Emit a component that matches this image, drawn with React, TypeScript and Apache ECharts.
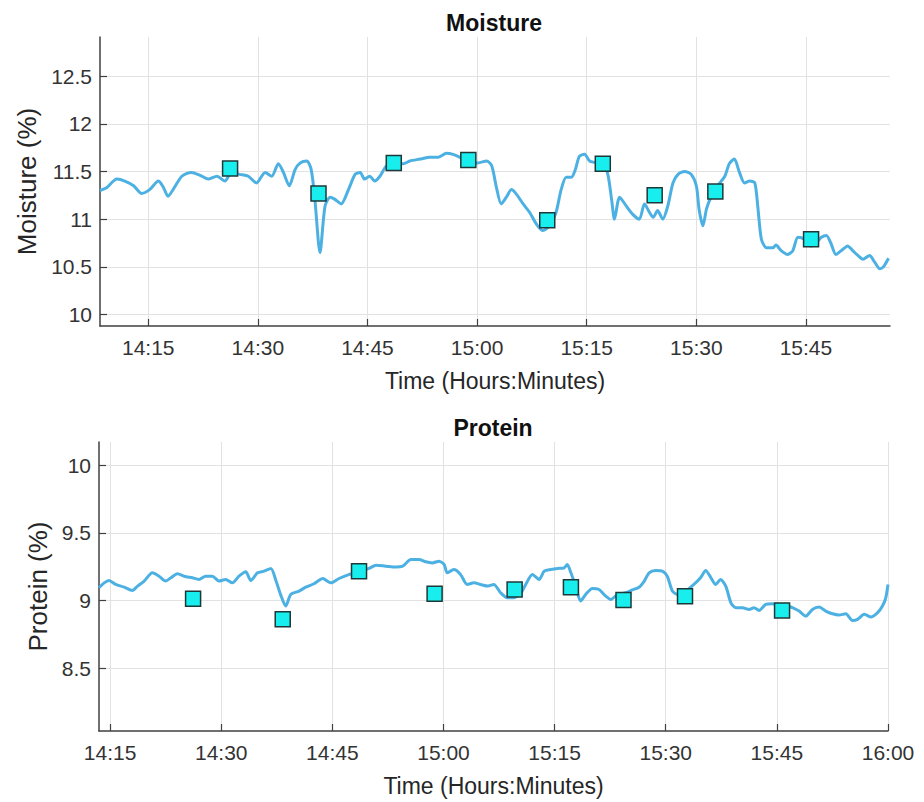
import React, { useEffect, useRef } from "react";
import * as echarts from "echarts";

// time values are minutes since midnight
const moistureTimes = [
  848.4, 849.3, 850.7, 851.8, 853.0, 854.1, 855.2, 856.4, 857.1, 857.7, 858.4, 859.6, 860.9, 862.1, 863.2,
  864.4, 865.5, 866.4, 867.5, 868.7, 869.8, 871.0, 871.9, 872.8, 873.5, 874.3, 875.1, 875.8, 876.7, 877.3,
  877.8, 878.5, 879.2, 879.9, 880.5, 881.4, 882.4, 883.3, 884.0, 884.6, 885.3, 886.0, 886.7, 887.6, 888.7,
  889.9, 890.8, 892.2, 893.5, 894.7, 895.8, 896.7, 897.6, 899.0, 900.1, 901.3, 902.0, 902.6, 903.3, 904.0,
  904.7, 905.4, 906.3, 907.2, 908.1, 909.0, 909.9, 910.8, 911.5, 912.2, 912.9, 913.4, 914.0, 914.7, 915.4,
  916.3, 917.7, 918.4, 918.8, 919.5, 920.4, 921.3, 922.2, 922.9, 923.6, 924.1, 924.7, 925.4, 926.1, 926.8,
  927.5, 928.4, 929.3, 930.0, 930.4, 930.9, 931.4, 932.0, 932.9, 933.9, 934.5, 935.2, 935.9, 936.6, 937.3,
  938.0, 938.4, 938.9, 939.6, 940.5, 940.9, 941.6, 942.5, 943.2, 943.9, 944.8, 945.7, 946.4, 947.1, 947.8,
  948.4, 949.1, 950.0, 950.7, 951.4, 952.1, 952.8, 953.7, 954.4, 955.1, 955.6, 956.3,
];
const moistureValues = [
  11.30, 11.33, 11.42, 11.40, 11.35, 11.27, 11.31, 11.40, 11.33, 11.24, 11.31, 11.45, 11.49, 11.46, 11.42,
  11.45, 11.40, 11.49, 11.47, 11.45, 11.38, 11.49, 11.45, 11.58, 11.49, 11.35, 11.52, 11.59, 11.61, 11.52,
  11.21, 10.65, 11.14, 11.23, 11.21, 11.16, 11.31, 11.47, 11.49, 11.42, 11.45, 11.40, 11.45, 11.56, 11.59,
  11.58, 11.61, 11.63, 11.65, 11.65, 11.69, 11.68, 11.65, 11.59, 11.59, 11.61, 11.56, 11.35, 11.16, 11.23,
  11.31, 11.26, 11.16, 11.07, 10.95, 10.88, 10.93, 11.07, 11.31, 11.44, 11.44, 11.51, 11.66, 11.68, 11.61,
  11.59, 11.52, 11.21, 11.00, 11.23, 11.14, 11.05, 11.00, 11.16, 11.07, 11.02, 11.09, 11.00, 11.14, 11.38,
  11.47, 11.50, 11.47, 11.35, 11.09, 10.93, 11.11, 11.23, 11.35, 11.45, 11.58, 11.63, 11.49, 11.38, 11.40,
  11.38, 11.14, 10.79, 10.70, 10.70, 10.73, 10.67, 10.63, 10.67, 10.81, 10.79, 10.72, 10.75, 10.81, 10.83,
  10.75, 10.63, 10.68, 10.72, 10.67, 10.62, 10.58, 10.62, 10.55, 10.48, 10.50, 10.59,
];

const proteinTimes = [
  853.5, 854.2, 854.85, 855.75, 856.9, 858.0, 858.7, 859.6, 860.7, 861.6, 862.5, 863.2, 864.1, 865.0, 866.1,
  867.0, 867.9, 868.8, 869.7, 870.6, 871.5, 872.4, 873.3, 874.0, 874.9, 875.8, 876.7, 877.4, 878.0, 878.7,
  879.4, 880.5, 881.4, 882.5, 883.7, 884.8, 885.9, 887.3, 888.2, 889.95, 890.9, 892.2, 893.6, 894.5, 895.6,
  896.7, 897.6, 898.5, 899.4, 900.1, 900.5, 901.4, 902.3, 903.2, 904.1, 905.0, 906.0, 906.8, 907.7, 908.6,
  909.5, 910.4, 911.1, 912.0, 912.9, 913.6, 914.5, 915.4, 916.3, 916.7, 917.2, 917.9, 918.5, 919.2, 920.1,
  921.0, 921.9, 922.6, 923.5, 924.6, 925.5, 926.4, 927.1, 927.75, 928.65, 929.55, 930.2, 930.9, 931.6, 932.7,
  933.8, 934.7, 935.4, 936.1, 936.75, 937.4, 938.1, 938.8, 939.45, 940.35, 941.25, 941.9, 942.6, 943.5, 944.4,
  945.3, 946.2, 947.1, 948.0, 948.9, 949.8, 950.7, 951.6, 952.5, 953.4, 954.3, 955.2, 955.9, 956.8, 957.7,
  958.6, 959.25, 959.7, 960.0,
];
const proteinValues = [
  9.096, 9.132, 9.150, 9.120, 9.100, 9.076, 9.108, 9.145, 9.206, 9.181, 9.145, 9.169, 9.199, 9.181, 9.169,
  9.157, 9.181, 9.181, 9.145, 9.157, 9.132, 9.181, 9.213, 9.150, 9.206, 9.218, 9.238, 9.145, 9.047, 8.961,
  9.047, 9.071, 9.100, 9.125, 9.164, 9.132, 9.164, 9.194, 9.206, 9.238, 9.262, 9.255, 9.248, 9.255, 9.304,
  9.304, 9.287, 9.279, 9.292, 9.267, 9.206, 9.230, 9.194, 9.120, 9.132, 9.120, 9.108, 9.120, 9.059, 9.022,
  9.022, 9.051, 9.120, 9.194, 9.157, 9.218, 9.230, 9.238, 9.243, 9.267, 9.206, 9.096, 8.998, 9.047, 9.091,
  9.083, 9.034, 9.010, 9.047, 9.059, 9.080, 9.100, 9.145, 9.206, 9.223, 9.218, 9.181, 9.071, 9.047, 9.071,
  9.120, 9.169, 9.223, 9.169, 9.120, 9.157, 9.108, 8.985, 8.949, 8.949, 8.936, 8.949, 8.929, 8.973, 8.978,
  8.968, 8.968, 8.949, 8.924, 8.887, 8.936, 8.953, 8.924, 8.904, 8.895, 8.904, 8.855, 8.863, 8.900, 8.880,
  8.912, 8.961, 9.022, 9.120,
];

const sampleTimes = [866.2, 878.3, 888.6, 898.8, 909.6, 917.2, 924.3, 932.6, 945.7];
const sampleMoisture = [11.53, 11.27, 11.59, 11.62, 10.99, 11.58, 11.25, 11.29, 10.79];
const sampleProtein = [9.015, 8.863, 9.218, 9.051, 9.083, 9.1, 9.005, 9.034, 8.929];

const moistureTimeTicks = [855, 870, 885, 900, 915, 930, 945];
const proteinTimeTicks = [855, 870, 885, 900, 915, 930, 945, 960];
const moistureTicks = [10, 10.5, 11, 11.5, 12, 12.5];
const proteinTicks = [8.5, 9, 9.5, 10];

const moistureRange = [9.88, 12.91];
const proteinRange = [8.04, 10.17];
const moistureTimeRange = [848.4, 956.5];
const proteinTimeRange = [853.5, 960];

const titles = ["Moisture", "Protein"];
const xName = "Time (Hours:Minutes)";
const yNames = ["Moisture (%)", "Protein (%)"];

const FONT = "'Liberation Sans', Arial, Helvetica, sans-serif";
const AXIS_COLOR = "#404040";
const LINE_COLOR = "#4CB1E2";

const fmtTime = (v: number) => {
  const m = Math.round(v);
  const h = Math.floor(m / 60);
  const mm = m % 60;
  return `${h}:${String(mm).padStart(2, "0")}`;
};

const zip = (a: number[], b: number[]) => a.map((x, i) => [x, b[i]]);

function xAxisCfg(gridIndex: number, range: number[], ticks: number[]) {
  return {
    type: "value",
    gridIndex,
    min: range[0],
    max: range[1],
    name: xName,
    nameLocation: "middle",
    nameGap: 43,
    nameTextStyle: { fontFamily: FONT, fontSize: 23, color: "#262626" },
    axisLine: { show: true, onZero: false, lineStyle: { color: AXIS_COLOR, width: 1.5 } },
    axisTick: { show: true, inside: true, length: 7, customValues: ticks, lineStyle: { color: AXIS_COLOR, width: 1.2 } },
    axisLabel: {
      show: true,
      customValues: ticks,
      formatter: (v: number) => fmtTime(v),
      fontFamily: FONT,
      fontSize: 21,
      color: "#333333",
      margin: 11,
    },
    splitLine: { show: true, lineStyle: { color: "#e2e2e2", width: 1 } },
  };
}

function yAxisCfg(gridIndex: number, range: number[], ticks: number[], name: string, gap: number) {
  return {
    type: "value",
    gridIndex,
    min: range[0],
    max: range[1],
    name,
    nameLocation: "middle",
    nameGap: gap,
    nameTextStyle: { fontFamily: FONT, fontSize: 26, color: "#262626" },
    axisLine: { show: true, onZero: false, lineStyle: { color: AXIS_COLOR, width: 1.5 } },
    axisTick: { show: true, inside: true, length: 7, customValues: ticks, lineStyle: { color: AXIS_COLOR, width: 1.2 } },
    axisLabel: {
      show: true,
      customValues: ticks,
      formatter: (v: number) => String(v),
      fontFamily: FONT,
      fontSize: 21,
      color: "#333333",
      margin: 8,
    },
    splitLine: { show: true, lineStyle: { color: "#e2e2e2", width: 1 } },
  };
}

export default function App() {
  const ref = useRef<HTMLDivElement>(null);

  useEffect(() => {
    if (!ref.current) return;
    const chart = echarts.init(ref.current, undefined, { renderer: "svg" });
    const option: any = {
      animation: false,
      backgroundColor: "#ffffff",
      grid: [
        { left: 100, right: 34, top: 37, bottom: 476, outerBoundsMode: "none" },
        { left: 99, right: 36, top: 442, bottom: 71, outerBoundsMode: "none" },
      ],
      graphic: [
        {
          type: "text",
          x: 494,
          y: 23,
          style: {
            text: titles[0],
            fontFamily: FONT,
            fontSize: 23,
            fontWeight: "bold",
            fill: "#111111",
            align: "center",
            verticalAlign: "middle",
          },
        },
        {
          type: "text",
          x: 493,
          y: 428,
          style: {
            text: titles[1],
            fontFamily: FONT,
            fontSize: 23,
            fontWeight: "bold",
            fill: "#111111",
            align: "center",
            verticalAlign: "middle",
          },
        },
      ],
      xAxis: [
        xAxisCfg(0, moistureTimeRange, moistureTimeTicks),
        xAxisCfg(1, proteinTimeRange, proteinTimeTicks),
      ],
      yAxis: [
        yAxisCfg(0, moistureRange, moistureTicks, yNames[0], 54),
        yAxisCfg(1, proteinRange, proteinTicks, yNames[1], 42),
      ],
      series: [
        {
          type: "line",
          xAxisIndex: 0,
          yAxisIndex: 0,
          data: zip(moistureTimes, moistureValues),
          showSymbol: false,
          smooth: 0.25,
          lineStyle: { color: LINE_COLOR, width: 3 },
          z: 2,
        },
        {
          type: "scatter",
          xAxisIndex: 0,
          yAxisIndex: 0,
          data: zip(sampleTimes, sampleMoisture),
          symbol: "rect",
          symbolSize: 15,
          itemStyle: { color: "#19EEEE", borderColor: "#1d3838", borderWidth: 1.5, opacity: 1 },
          z: 3,
        },
        {
          type: "line",
          xAxisIndex: 1,
          yAxisIndex: 1,
          data: zip(proteinTimes, proteinValues),
          showSymbol: false,
          smooth: 0.25,
          lineStyle: { color: LINE_COLOR, width: 3 },
          z: 2,
        },
        {
          type: "scatter",
          xAxisIndex: 1,
          yAxisIndex: 1,
          data: zip(sampleTimes, sampleProtein),
          symbol: "rect",
          symbolSize: 15,
          itemStyle: { color: "#19EEEE", borderColor: "#1d3838", borderWidth: 1.5, opacity: 1 },
          z: 3,
        },
      ],
    };
    chart.setOption(option);
    return () => chart.dispose();
  }, []);

  return (
    <div
      ref={ref}
      style={{ position: "fixed", left: 0, top: 0, width: 924, height: 802, background: "#fff" }}
    />
  );
}
